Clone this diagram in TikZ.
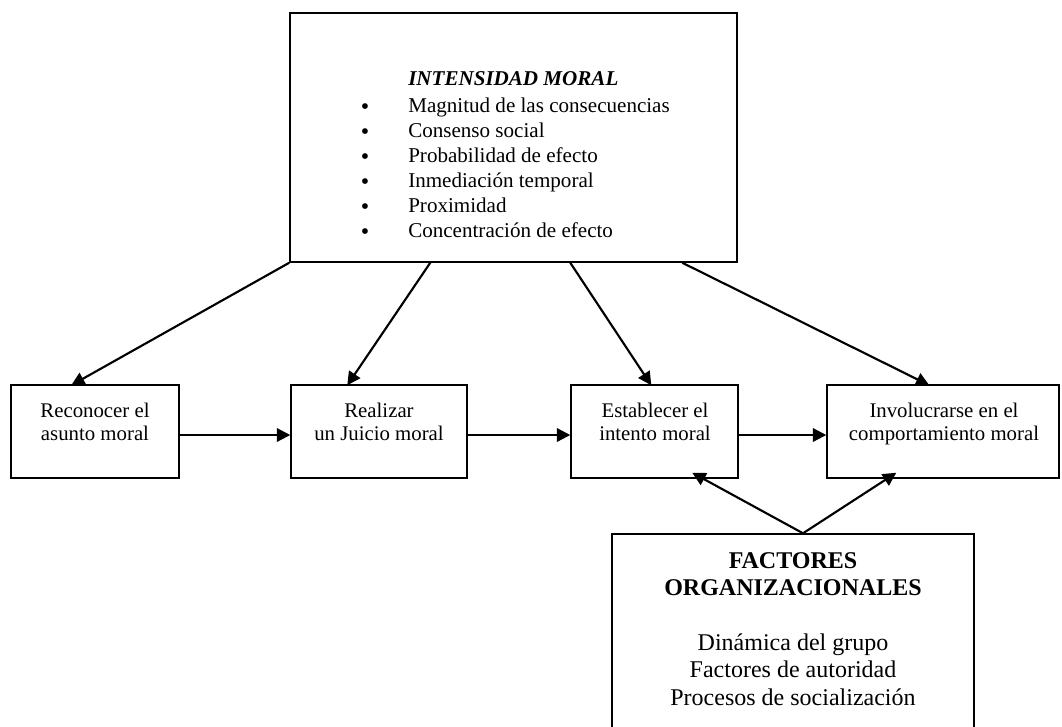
\documentclass[tikz,border=0pt]{standalone}
\usepackage{fontspec}
\setmainfont{Liberation Serif}
\usetikzlibrary{arrows.meta,calc,fit}
\begin{document}
\begin{tikzpicture}[x=0.75pt,y=-0.75pt,
  frame/.style={draw,line width=1.1pt,inner sep=0pt},
  link/.style={line width=1.6pt,-{Triangle[length=10pt,width=10pt]}},
  toptext/.style={anchor=base west,inner sep=0pt,font=\fontsize{15.8}{19}\selectfont},
  dot/.style={anchor=base,inner sep=0pt,font=\fontsize{18}{18}\selectfont},
  steptext/.style={anchor=base,inner sep=0pt,font=\fontsize{15.6}{18}\selectfont},
  orgtext/.style={anchor=base,inner sep=0pt,font=\fontsize{18}{21}\selectfont},
]
\clip (0,0) rectangle (1062,726);
\fill[white] (0,0) rectangle (1062,726);

% moral intensity box
\node[frame, fit={(290,13) (737,262)}] (moral) {};
\node[toptext] (title) at (408,85) {\textbf{\textit{INTENSIDAD MORAL}}};
\foreach \t [count=\i from 0] in {Magnitud de las consecuencias, Consenso social,
    Probabilidad de efecto, Inmediación temporal, Proximidad, Concentración de efecto}{
  \node[dot] (dot\i) at (365,{114+25*\i}) {•};
  \node[toptext] (item\i) at (408,{112+25*\i}) {\t};
}

% the four stages
\node[frame, fit={(11,385) (179,478)}] (s1) {};
\node[frame, fit={(291,385) (467,478)}] (s2) {};
\node[frame, fit={(571,385) (738,478)}] (s3) {};
\node[frame, fit={(827,385) (1059,478)}] (s4) {};

\node[steptext] (s1a) at (95,417) {Reconocer el};
\node[steptext] (s1b) at (95,440) {asunto moral};
\node[steptext] (s2a) at (379,417) {Realizar};
\node[steptext] (s2b) at (379,440) {un Juicio moral};
\node[steptext] (s3a) at (655,417) {Establecer el};
\node[steptext] (s3b) at (655,440) {intento moral};
\node[steptext] (s4a) at (944,417) {Involucrarse en el};
\node[steptext] (s4b) at (944,440) {comportamiento moral};

% organizational factors box (runs off the lower edge)
\node[frame, fit={(612,534) (974,745)}] (org) {};
\node[orgtext] (o1) at (793,568) {\textbf{FACTORES}};
\node[orgtext] (o2) at (793,595) {\textbf{ORGANIZACIONALES}};
\node[orgtext] (o3) at (793,650) {Dinámica del grupo};
\node[orgtext] (o4) at (793,677) {Factores de autoridad};
\node[orgtext] (o5) at (793,705) {Procesos de socialización};

% arrows from moral intensity to each stage
\draw[link] (moral.south west) -- ($(s1.north west)+(61,1)$);
\draw[link] ($(moral.south west)+(141,0)$) -- ($(s2.north west)+(57,1)$);
\draw[link] ($(moral.south west)+(281,0)$) -- ($(s3.north west)+(81,1)$);
\draw[link] ($(moral.south west)+(393,0)$) -- ($(s4.north west)+(103,1)$);

% stage sequence
\draw[link] ($(s1.east)+(0,3.5)$) -- ($(s2.west)+(0,3.5)$);
\draw[link] ($(s2.east)+(0,3.5)$) -- ($(s3.west)+(0,3.5)$);
\draw[link] ($(s3.east)+(0,3.5)$) -- ($(s4.west)+(0,3.5)$);

% organizational factors feed intent and behaviour
\coordinate (apex) at ($(org.north)+(10,0)$);
\draw[link] (apex) -- ($(s3.south west)+(122,-6)$);
\draw[link] (apex) -- ($(s4.south west)+(70,-6)$);
\end{tikzpicture}
\end{document}
